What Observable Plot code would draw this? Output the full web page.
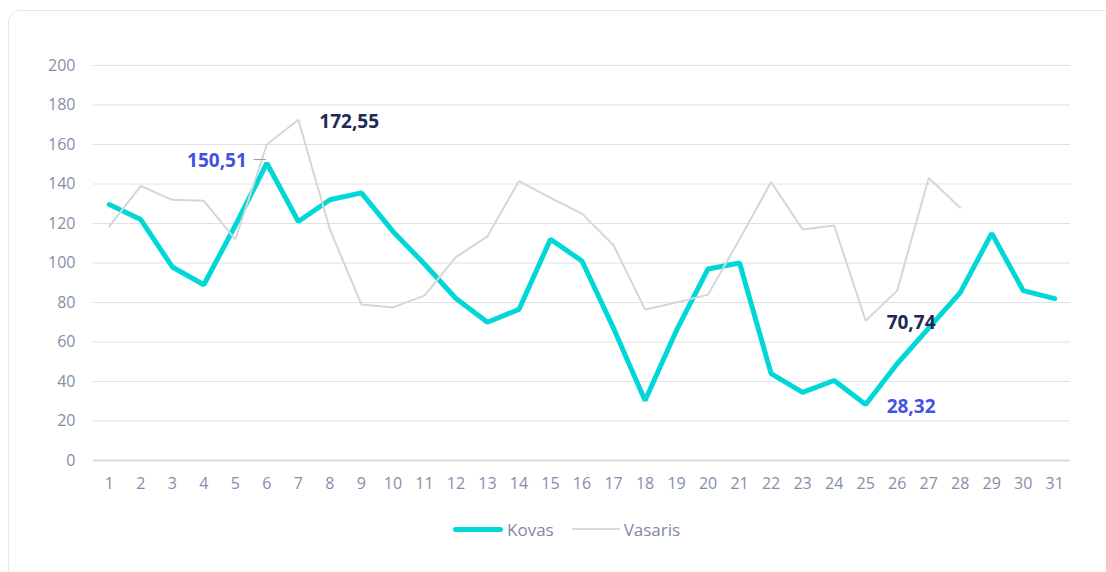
<!DOCTYPE html>
<html>
<head>
<meta charset="utf-8">
<script src="https://cdn.jsdelivr.net/npm/d3@7"></script>
<script src="https://cdn.jsdelivr.net/npm/@observablehq/plot@0.6"></script>
<style>
  html, body { margin: 0; padding: 0; background: #fff; width: 1106px; height: 572px; overflow: hidden; }
  body { font-family: "Open Sans", "Noto Sans", sans-serif; position: relative; }
  #card { position: absolute; left: 8px; top: 10px; width: 1120px; height: 600px; border: 1px solid #e8e8ea; border-radius: 12px; box-sizing: border-box; }
  #chart { position: absolute; left: 0; top: 0; }
  #legend { position: absolute; left: 453px; top: 518px; display: flex; align-items: center; font-size: 17px; color: #7f88a6; height: 22px; }
  .sw { display: inline-block; border-radius: 3px; }
</style>
</head>
<body>
<div id="card"></div>
<div id="chart"></div>
<div id="legend">
  <span class="sw" style="width:50px;height:5px;background:#00d8d8;"></span>
  <span style="margin-left:4px;">Kovas</span>
  <span class="sw" style="width:48px;height:2.5px;background:#d9d9d9;margin-left:18px;"></span>
  <span style="margin-left:4px;">Vasaris</span>
</div>
<script>
const days = d3.range(1, 32);
const kovas = [129.6, 122, 98, 89, 119, 150.51, 121, 132, 135.5, 116, 99.5, 82, 70, 76.5, 112, 101, 67, 30.4, 66, 97, 100, 44, 34.5, 40.5, 28.32, 49, 67, 85, 115, 86, 82];
const vasaris = [118.5, 139, 132, 131.5, 112, 160, 172.55, 117, 79, 77.5, 83.5, 103, 113.5, 141.5, 133, 125, 109, 76.5, 80, 84, 112, 141, 117, 119, 70.74, 86, 143, 128];
const yTicks = [0, 20, 40, 60, 80, 100, 120, 140, 160, 180, 200];

const kovasData = kovas.map((v, i) => ({day: days[i], value: v}));
const vasarisData = vasaris.map((v, i) => ({day: days[i], value: v}));

const maxK = kovasData.reduce((a, b) => b.value > a.value ? b : a);
const minK = kovasData.reduce((a, b) => b.value < a.value ? b : a);
const maxV = vasarisData.reduce((a, b) => b.value > a.value ? b : a);
const minV = vasarisData.reduce((a, b) => b.value < a.value ? b : a);
const fmt = v => v.toFixed(2).replace(".", ",");

const tickColor = "#858ea9";

const chart = Plot.plot({
  width: 1106,
  height: 500,
  marginLeft: 93,
  marginRight: 36,
  marginTop: 65,
  marginBottom: 40,
  style: { fontFamily: "'Open Sans', 'Noto Sans', sans-serif", fontSize: "16px", background: "transparent", overflow: "visible" },
  x: { domain: [0.5, 31.5], ticks: days, tickFormat: d => String(d), tickSize: 0, tickPadding: 18, label: null },
  y: { domain: [0, 200], ticks: yTicks, tickSize: 0, tickPadding: 18, label: null },
  marks: [
    Plot.ruleY(yTicks.filter(d => d !== 0), { stroke: "#e1e1e4", strokeWidth: 1 }),
    Plot.ruleY([0], { stroke: "#d9d9dc", strokeWidth: 2 }),
    Plot.axisX({ ticks: days, tickSize: 0, tickPadding: 17, fontSize: 16, fill: tickColor, tickFormat: d => String(d), label: null }),
    Plot.axisY({ ticks: yTicks, tickSize: 0, tickPadding: 18, fontSize: 16, fill: tickColor, label: null }),
    Plot.line(kovasData, { x: "day", y: "value", stroke: "#00d8d8", strokeWidth: 5, strokeLinejoin: "miter", curve: "linear" }),
    Plot.line(vasarisData, { x: "day", y: "value", stroke: "#d6d6d6", strokeWidth: 2, strokeLinejoin: "miter" }),
    Plot.text([maxV], { x: "day", y: "value", text: d => fmt(d.value), dx: 21, dy: 2, textAnchor: "start", fill: "#1b2a57", fontSize: 19, fontWeight: "bold" }),
    Plot.text([minV], { x: "day", y: "value", text: d => fmt(d.value), dx: 21, dy: 2, textAnchor: "start", fill: "#1b2a57", fontSize: 19, fontWeight: "bold" }),
    Plot.text([maxK], { x: "day", y: "value", text: d => fmt(d.value), dx: -20, dy: -2, textAnchor: "end", fill: "#4351e3", fontSize: 19, fontWeight: "bold" }),
    Plot.text([maxK], { x: "day", y: "value", text: () => "—", dx: -7, dy: -4, textAnchor: "middle", fill: "#9a9a9a", fontSize: 13 }),
    Plot.text([minK], { x: "day", y: "value", text: d => fmt(d.value), dx: 21, dy: 2, textAnchor: "start", fill: "#4351e3", fontSize: 19, fontWeight: "bold" })
  ]
});
document.getElementById("chart").appendChild(chart);
</script>
</body>
</html>
